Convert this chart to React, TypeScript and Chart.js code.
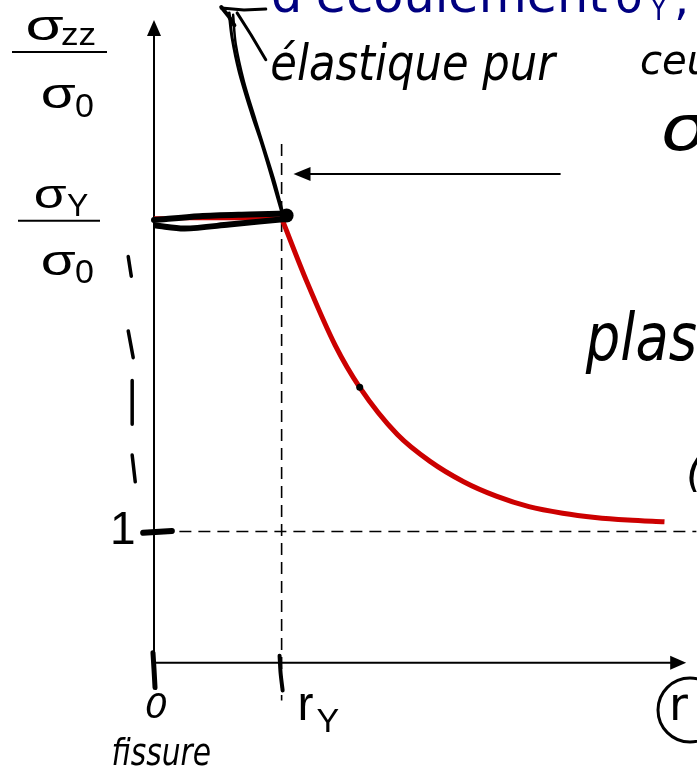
import React, { useEffect, useRef } from "react";
import { Chart, registerables } from "chart.js";

Chart.register(...registerables);

// Normalised radius r / rY and stress σzz / σ0
const PLATEAU_R = [0, 1];
const PLATEAU_S = [3.39, 3.39];
const DECAY_R = [1, 1.2, 1.42, 1.612, 1.907, 2.163, 2.426, 2.682, 2.938, 3.202, 3.457, 3.713, 4.0];
const DECAY_S = [3.39, 2.9, 2.42, 2.1, 1.74, 1.535, 1.38, 1.27, 1.19, 1.14, 1.108, 1.088, 1.074];

// Reference levels
const R_Y = 1;
const SIGMA_ONE = 1;
const SIGMA_Y = 3.39;
const X_TIP = 4.17;
const Y_TIP = 4.9;

// Pen annotations, in the same (r, σ) units
const POINTER_A_R = [0.589, 0.612, 0.667, 0.767, 0.845, 0.922, 1.0];
const POINTER_A_S = [4.955, 4.765, 4.508, 4.182, 3.955, 3.705, 3.439];
const POINTER_B_R = [0.62, 0.64, 0.705, 0.795, 0.872, 0.948, 1.008];
const POINTER_B_S = [4.94, 4.72, 4.43, 4.14, 3.9, 3.66, 3.439];
const BARB_R = [0.651, 0.76, 0.876];
const BARB_S = [4.955, 4.788, 4.598];
const HOOK_R = [0.527, 0.705, 0.876];
const HOOK_S = [4.992, 4.977, 4.985];
const HOOK2_R = [0.527, 0.585, 0.63];
const HOOK2_S = [5.0, 4.93, 4.86];
const YIELD_UP_R = [0, 0.357, 0.744, 1.054];
const YIELD_UP_S = [3.375, 3.405, 3.418, 3.425];
const YIELD_LO_R = [0.016, 0.24, 0.589, 1.054];
const YIELD_LO_S = [3.333, 3.311, 3.341, 3.386];
const TICK_ONE_R = [-0.085, 0.14];
const TICK_ONE_S = [0.99, 1.005];
const TICK_ZERO_R = [-0.008, 0.0, 0.008];
const TICK_ZERO_S = [0.076, -0.05, -0.19];
const TICK_RY_R = [0.984, 0.992, 1.008];
const TICK_RY_S = [0.053, -0.08, -0.212];
const MARK1_R = [-0.202, -0.178];
const MARK1_S = [3.098, 2.947];
const MARK2_R = [-0.202, -0.163];
const MARK2_S = [2.53, 2.326];
const MARK3_R = [-0.171, -0.171];
const MARK3_S = [2.152, 1.818];
const MARK4_R = [-0.171, -0.147];
const MARK4_S = [1.583, 1.379];
const DOT_R = [1.612, -0.155];
const DOT_S = [2.1, 1.318];
const BLOB_R = [1.039];
const BLOB_S = [3.41];

const pts = (rs: number[], ss: number[]) => rs.map((r, i) => ({ x: r, y: ss[i] }));

const pen = (rs: number[], ss: number[], width: number, tension = 0.3) => ({
  data: pts(rs, ss),
  showLine: true,
  borderColor: "#000",
  backgroundColor: "#000",
  borderWidth: width,
  pointRadius: 0,
  borderCapStyle: "round" as const,
  borderJoinStyle: "round" as const,
  tension,
  clip: false as any,
  order: 1,
});

const SANS = '"Liberation Sans", Arial, sans-serif';
const HAND = '"DejaVu Sans", sans-serif';
const TITLE = '"DejaVu Sans", sans-serif';

// Draw text with its ink starting at x; optionally stretch to an ink width.
function ink(
  ctx: CanvasRenderingContext2D,
  s: string,
  x: number,
  y: number,
  size: number,
  family: string,
  opts: { width?: number; style?: string; color?: string } = {}
) {
  ctx.save();
  ctx.font = `${opts.style || ""} ${size}px ${family}`;
  ctx.fillStyle = opts.color || "#000";
  ctx.textAlign = "left";
  ctx.textBaseline = "alphabetic";
  const m = ctx.measureText(s);
  const w = m.actualBoundingBoxLeft + m.actualBoundingBoxRight;
  const sx = opts.width ? opts.width / w : 1;
  ctx.translate(x + m.actualBoundingBoxLeft * sx, y);
  ctx.scale(sx, 1);
  ctx.fillText(s, 0, 0);
  ctx.restore();
}

function hline(ctx: CanvasRenderingContext2D, x1: number, x2: number, y: number, w: number) {
  ctx.beginPath();
  ctx.moveTo(x1, y);
  ctx.lineTo(x2, y);
  ctx.lineWidth = w;
  ctx.stroke();
}

const framePlugin = {
  id: "frame",
  beforeDatasetsDraw(chart: any) {
    const { ctx, scales } = chart;
    const X = (v: number) => scales.x.getPixelForValue(v);
    const Y = (v: number) => scales.y.getPixelForValue(v);
    ctx.save();
    ctx.strokeStyle = "#000";
    ctx.fillStyle = "#000";
    ctx.lineCap = "butt";

    // dashed guides
    ctx.setLineDash([12, 7]);
    ctx.lineWidth = 1.6;
    ctx.beginPath();
    ctx.moveTo(X(R_Y), Y(3.955));
    ctx.lineTo(X(R_Y), Y(-0.288));
    ctx.stroke();
    ctx.beginPath();
    ctx.moveTo(X(0.05), Y(SIGMA_ONE));
    ctx.lineTo(X(4.25), Y(SIGMA_ONE));
    ctx.stroke();
    ctx.setLineDash([]);

    // axes with arrow heads
    const x0 = X(0);
    const y0 = Y(0);
    const yt = Y(Y_TIP);
    const xt = X(X_TIP);
    ctx.lineWidth = 2;
    ctx.beginPath();
    ctx.moveTo(x0, y0);
    ctx.lineTo(x0, yt + 12);
    ctx.moveTo(x0, y0);
    ctx.lineTo(xt - 12, y0);
    ctx.stroke();
    ctx.beginPath();
    ctx.moveTo(x0, yt);
    ctx.lineTo(x0 - 7, yt + 16);
    ctx.lineTo(x0 + 7, yt + 16);
    ctx.closePath();
    ctx.fill();
    ctx.beginPath();
    ctx.moveTo(xt, y0);
    ctx.lineTo(xt - 16, y0 - 7);
    ctx.lineTo(xt - 16, y0 + 7);
    ctx.closePath();
    ctx.fill();

    // arrow pointing at the yield level
    const ay = Y(3.727);
    const ax = X(1.093);
    ctx.beginPath();
    ctx.moveTo(X(3.186), ay);
    ctx.lineTo(ax + 12, ay);
    ctx.stroke();
    ctx.beginPath();
    ctx.moveTo(ax, ay);
    ctx.lineTo(ax + 17, ay - 7);
    ctx.lineTo(ax + 17, ay + 7);
    ctx.closePath();
    ctx.fill();
    ctx.restore();
  },
  afterDraw(chart: any) {
    const { ctx, scales } = chart;
    const X = (v: number) => scales.x.getPixelForValue(v);
    const Y = (v: number) => scales.y.getPixelForValue(v);
    ctx.save();
    ctx.strokeStyle = "#000";

    // σzz / σ0
    ink(ctx, "σ", 27, 40, 43, SANS, { width: 36 });
    ink(ctx, "zz", 62, 45, 32, SANS, { width: 33 });
    hline(ctx, 12, 107, 52, 2);
    ink(ctx, "σ", 42, 108, 43, SANS, { width: 33 });
    ink(ctx, "0", 76, 117, 34, SANS, { width: 17 });

    // σY / σ0
    const fy = Y(SIGMA_Y);
    ink(ctx, "σ", 35, fy - 10, 40, SANS, { width: 32 });
    ink(ctx, "Y", 67, fy - 2, 32, SANS, { width: 21 });
    hline(ctx, 18, 100, fy + 2.5, 2);
    ink(ctx, "σ", 42, fy + 57, 43, SANS, { width: 33 });
    ink(ctx, "0", 76, fy + 65, 34, SANS, { width: 17 });

    // "1" level
    ink(ctx, "1", 113, Y(SIGMA_ONE) + 12, 46, SANS);

    // rY
    ink(ctx, "r", X(R_Y) + 19, 720, 48, SANS);
    ink(ctx, "Y", X(R_Y) + 35, 732, 34, SANS);

    // circled r at the end of the abscissa
    ink(ctx, "r", 673, 720, 46, TITLE);
    ctx.lineWidth = 3;
    ctx.beginPath();
    ctx.ellipse(690, 710, 32, 32, 0, 0, Math.PI * 2);
    ctx.stroke();

    // title line (navy)
    const navy = "#000080";
    ink(ctx, "d'écoulement", 273, 12, 50, TITLE, { color: navy, width: 334 });
    ink(ctx, "σ", 617, 12, 48, TITLE, { color: navy, width: 26 });
    ink(ctx, "Y", 650, 20, 32, TITLE, { color: navy, width: 17 });
    ink(ctx, ",", 677, 14, 48, TITLE, { color: navy });

    // handwritten notes
    ink(ctx, "élastique pur", 272, 80, 50, HAND, { style: "italic", width: 286 });
    ink(ctx, "ceu", 641, 74, 40, HAND, { style: "italic", width: 70 });
    ink(ctx, "σ", 662, 150, 64, HAND, { style: "italic", width: 50 });
    ink(ctx, "plast", 585, 360, 66, HAND, { style: "italic", width: 135 });
    ink(ctx, "(", 689, 486, 44, HAND, { style: "italic" });
    ink(ctx, "0", 146, 718, 34, HAND, { style: "italic", width: 20 });
    ink(ctx, "fissure", 113, 765, 38, HAND, { style: "italic", width: 97 });
    ctx.restore();
  },
};

export default function App() {
  const ref = useRef<HTMLCanvasElement | null>(null);

  useEffect(() => {
    document.body.style.margin = "0";
    const canvas = ref.current;
    if (!canvas) return;

    const chart = new Chart(canvas, {
      type: "scatter",
      data: {
        datasets: [
          {
            data: pts(DECAY_R, DECAY_S),
            showLine: true,
            borderColor: "#cc0000",
            borderWidth: 5,
            pointRadius: 0,
            cubicInterpolationMode: "monotone",
            clip: false as any,
            order: 5,
          },
          {
            data: pts(PLATEAU_R, PLATEAU_S),
            showLine: true,
            borderColor: "#cc0000",
            borderWidth: 4,
            pointRadius: 0,
            clip: false as any,
            order: 5,
          },
          pen(YIELD_UP_R, YIELD_UP_S, 6),
          pen(YIELD_LO_R, YIELD_LO_S, 6),
          pen(POINTER_A_R, POINTER_A_S, 3),
          pen(POINTER_B_R, POINTER_B_S, 2.5),
          pen(BARB_R, BARB_S, 3, 0),
          pen(HOOK_R, HOOK_S, 3, 0),
          pen(HOOK2_R, HOOK2_S, 4, 0),
          pen(TICK_ONE_R, TICK_ONE_S, 6, 0),
          pen(TICK_ZERO_R, TICK_ZERO_S, 5),
          pen(TICK_RY_R, TICK_RY_S, 4),
          pen(MARK1_R, MARK1_S, 3.5, 0),
          pen(MARK2_R, MARK2_S, 3.5, 0),
          pen(MARK3_R, MARK3_S, 3.5, 0),
          pen(MARK4_R, MARK4_S, 3.5, 0),
          {
            data: pts(DOT_R, DOT_S),
            showLine: false,
            pointRadius: 3.5,
            pointBackgroundColor: "#000",
            pointBorderWidth: 0,
            clip: false as any,
            order: 0,
          },
          {
            data: pts(BLOB_R, BLOB_S),
            showLine: false,
            pointRadius: 7,
            pointBackgroundColor: "#000",
            pointBorderWidth: 0,
            clip: false as any,
            order: 0,
          },
        ],
      },
      options: {
        animation: false,
        responsive: false,
        devicePixelRatio: 1,
        layout: { padding: { left: 154, right: 1.2, top: 2, bottom: 11.4 } },
        scales: {
          x: { type: "linear", min: 0, max: 4.2, display: false },
          y: { type: "linear", min: -0.8, max: 5.0, display: false },
        },
        plugins: {
          legend: { display: false },
          tooltip: { enabled: false },
        },
        events: [],
      },
      plugins: [framePlugin],
    });

    return () => chart.destroy();
  }, []);

  return (
    <canvas
      ref={ref}
      width={697}
      height={779}
      style={{ display: "block", width: 697, height: 779, background: "#fff" }}
    />
  );
}
